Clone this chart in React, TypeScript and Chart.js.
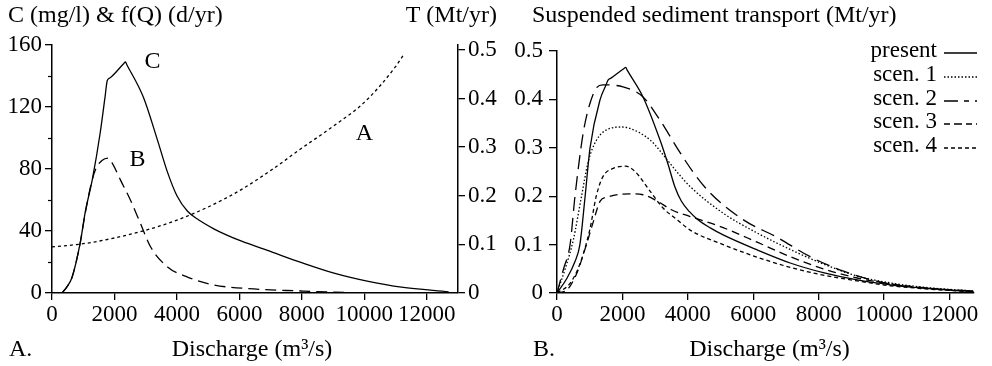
import React, { useEffect, useRef } from 'react';
import { Chart, registerables } from 'chart.js';

Chart.register(...registerables);

const FONT_FAMILY = '"Liberation Serif", "Times New Roman", serif';
const FONT_SIZE = 23;
const TITLE_SIZE = 24;

// ---------- Panel A data ----------
// Curve A: concentration (mg/l), left axis
const aDischarge = [0, 1000, 2000, 3000, 4000, 5000, 6000, 7000, 8000, 9000, 10000, 11000, 11250];
const aConc = [29.7, 31.8, 35.5, 40.5, 47, 55.5, 66, 79, 93.5, 107.5, 123, 146, 153.5];

// Curve B: frequency f(Q) (d/yr), left axis
const bDischarge = [320, 480, 640, 900, 1060, 1250, 1400, 1600, 1800, 1950, 2190, 2510, 2830, 3150, 3700, 4340, 5180, 6460, 7970, 9030, 10000];
const bDays = [0, 4, 10, 32, 51, 70, 80, 85.5, 87, 83, 73, 60, 45, 30, 16.8, 10.3, 5.2, 2.6, 1.3, 0.5, 0];

// Curve C: transport T (Mt/yr), right axis
const cDischarge = [320, 480, 640, 900, 1060, 1290, 1540, 1700, 1770, 1850, 2300, 2350, 2400, 2930, 3370, 3700, 4000, 4340, 4700, 5180, 5600, 6050, 7010, 7970, 9030, 10130, 11190, 12700];
const cTransport = [0, 0.013, 0.032, 0.102, 0.165, 0.233, 0.328, 0.404, 0.437, 0.442, 0.472, 0.475, 0.469, 0.402, 0.316, 0.248, 0.2, 0.168, 0.15, 0.132, 0.119, 0.107, 0.085, 0.063, 0.041, 0.024, 0.012, 0.0025];

const aLeftTicks = [0, 40, 80, 120, 160];
const dischargeTicks = [0, 2000, 4000, 6000, 8000, 10000, 12000];

// ---------- Panel B data ----------
const presentQ = [0, 300, 550, 700, 860, 1010, 1320, 1500, 1560, 1650, 2050, 2100, 2150, 2630, 3150, 3400, 3600, 3800, 4050, 4300, 4700, 5080, 6120, 7130, 8140, 9180, 10190, 11200, 12730];
const presentT = [0, 0.03, 0.065, 0.1, 0.2, 0.3, 0.4, 0.43, 0.44, 0.444, 0.464, 0.466, 0.46, 0.405, 0.316, 0.265, 0.22, 0.19, 0.168, 0.152, 0.134, 0.12, 0.089, 0.062, 0.042, 0.027, 0.017, 0.010, 0.003];

const scen1Q = [0, 250, 500, 750, 950, 1200, 1620, 2000, 2230, 2850, 3370, 3670, 4070, 5080, 6120, 7130, 8140, 9180, 10190, 11200, 12730];
const scen1T = [0, 0.05, 0.11, 0.2, 0.27, 0.315, 0.34, 0.343, 0.34, 0.316, 0.275, 0.25, 0.22, 0.165, 0.124, 0.09, 0.06, 0.035, 0.021, 0.012, 0.004];

const scen2Q = [0, 200, 400, 550, 800, 1000, 1220, 1400, 2020, 2630, 3150, 3670, 4160, 4680, 5700, 6730, 7740, 8760, 9800, 10800, 12730];
const scen2T = [0, 0.05, 0.1, 0.2, 0.33, 0.39, 0.425, 0.43, 0.426, 0.405, 0.357, 0.3, 0.25, 0.207, 0.151, 0.115, 0.075, 0.045, 0.024, 0.013, 0.004];

const scen3Q = [0, 300, 600, 900, 1100, 1320, 1530, 2230, 2630, 3060, 3500, 4070, 5080, 6120, 7130, 8140, 9180, 10190, 11200, 12730];
const scen3T = [0, 0.006, 0.04, 0.1, 0.145, 0.19, 0.198, 0.205, 0.203, 0.19, 0.172, 0.158, 0.135, 0.105, 0.075, 0.05, 0.031, 0.019, 0.011, 0.003];

const scen4Q = [0, 400, 700, 1000, 1200, 1400, 1700, 2100, 2400, 2850, 3250, 3700, 4070, 5080, 6120, 7130, 8140, 9180, 10190, 11200, 12730];
const scen4T = [0, 0.02, 0.06, 0.13, 0.2, 0.24, 0.257, 0.262, 0.25, 0.21, 0.175, 0.15, 0.13, 0.1, 0.074, 0.053, 0.037, 0.025, 0.015, 0.009, 0.002];

const legendLabels = ['present', 'scen. 1', 'scen. 2', 'scen. 3', 'scen. 4'];

const toPoints = (xs: number[], ys: number[]) => xs.map((x, i) => ({ x, y: ys[i] }));

const font = { family: FONT_FAMILY, size: FONT_SIZE };
const fontStr = `${FONT_SIZE}px ${FONT_FAMILY}`;
const titleFontStr = `${TITLE_SIZE}px ${FONT_FAMILY}`;

const numLabel = (v: any) => String(Number(v));
const decLabel = (v: any) => (Number(v) === 0 ? '0' : Number(v).toFixed(1));
const setTicks = (vals: number[]) => (s: any) => { s.ticks = vals.map((v) => ({ value: v })); };

const axisGrid = (len: number) => ({
  drawOnChartArea: false,
  drawTicks: true,
  tickLength: len,
  color: '#000',
  tickColor: '#000',
  lineWidth: 1.3,
});
const axisBorder = { display: true, color: '#000', width: 1.5 };

const lineBase = {
  borderColor: '#000',
  borderWidth: 1.3,
  pointRadius: 0,
  fill: false,
  cubicInterpolationMode: 'monotone',
};

function drawText(ctx: CanvasRenderingContext2D, text: string, x: number, y: number, align: CanvasTextAlign = 'left', f: string = fontStr) {
  ctx.save();
  ctx.font = f;
  ctx.fillStyle = '#000';
  ctx.textAlign = align;
  ctx.textBaseline = 'middle';
  ctx.fillText(text, x, y);
  ctx.restore();
}

const panelAPlugin = {
  id: 'panelAText',
  afterDraw(chart: any) {
    const { ctx, chartArea, scales } = chart;
    drawText(ctx, 'C (mg/l) & f(Q) (d/yr)', 8, 16, 'left', titleFontStr);
    drawText(ctx, 'T (Mt/yr)', 497, 16, 'right', titleFontStr);
    drawText(ctx, 'A.', 9, 350, 'left', titleFontStr);
    drawText(ctx, 'Discharge (m³/s)', (chartArea.left + chartArea.right) / 2 - 3, 350, 'center', titleFontStr);
    const x = scales.x, y = scales.y;
    drawText(ctx, 'C', x.getPixelForValue(3215), y.getPixelForValue(149), 'center', titleFontStr);
    drawText(ctx, 'B', x.getPixelForValue(2735), y.getPixelForValue(86), 'center', titleFontStr);
    drawText(ctx, 'A', x.getPixelForValue(10000), y.getPixelForValue(103), 'center', titleFontStr);
    // minor ticks on left axis
    ctx.save();
    ctx.strokeStyle = '#000';
    ctx.lineWidth = 1.2;
    [20, 60, 100, 140].forEach((v) => {
      const py = Math.round(y.getPixelForValue(v)) + 0.5;
      ctx.beginPath();
      ctx.moveTo(chartArea.left - 4, py);
      ctx.lineTo(chartArea.left, py);
      ctx.stroke();
    });
    ctx.restore();
  },
};

const legendDashes: number[][] = [[], [1.5, 2], [14, 6, 5, 6], [6, 4, 8, 4], [4, 3]];

const panelBPlugin = {
  id: 'panelBText',
  afterDraw(chart: any) {
    const { ctx, chartArea } = chart;
    drawText(ctx, 'Suspended sediment transport (Mt/yr)', 32, 16, 'left', titleFontStr);
    drawText(ctx, 'B.', 33, 350, 'left', titleFontStr);
    drawText(ctx, 'Discharge (m³/s)', (chartArea.left + chartArea.right) / 2 + 4, 350, 'center', titleFontStr);
    const rowsY = [51, 75, 99, 122, 146];
    legendLabels.forEach((lab, i) => {
      drawText(ctx, lab, 437, rowsY[i], 'right');
      ctx.save();
      ctx.strokeStyle = '#000';
      ctx.lineWidth = 1.3;
      ctx.setLineDash(legendDashes[i]);
      ctx.beginPath();
      ctx.moveTo(444, rowsY[i] + 2);
      ctx.lineTo(477, rowsY[i] + 2);
      ctx.stroke();
      ctx.restore();
    });
  },
};

function makePanelA(canvas: HTMLCanvasElement) {
  return new Chart(canvas, {
    type: 'line',
    data: {
      datasets: [
        { ...lineBase, label: 'A', data: toPoints(aDischarge, aConc), yAxisID: 'y', borderDash: [3, 3] } as any,
        { ...lineBase, label: 'B', data: toPoints(bDischarge, bDays), yAxisID: 'y', borderDash: [11, 6] } as any,
        { ...lineBase, label: 'C', data: toPoints(cDischarge, cTransport), yAxisID: 'y2' } as any,
      ],
    },
    options: {
      responsive: false,
      animation: false,
      layout: { padding: { top: 45, left: 0, right: 0, bottom: 0 } },
      plugins: { legend: { display: false }, tooltip: { enabled: false }, title: { display: false } },
      scales: {
        x: {
          type: 'linear', min: 0, max: 13000,
          afterBuildTicks: setTicks(dischargeTicks),
          ticks: { font, color: '#000', padding: 1, maxRotation: 0, autoSkip: false, callback: numLabel },
          grid: axisGrid(7), border: axisBorder,
          afterFit: (s: any) => { s.height = 73; },
        },
        y: {
          type: 'linear', position: 'left', min: 0, max: 160,
          afterBuildTicks: setTicks(aLeftTicks),
          ticks: { font, color: '#000', padding: 3, callback: numLabel },
          grid: axisGrid(7), border: axisBorder,
          afterFit: (s: any) => { s.width = 52; },
        },
        y2: {
          type: 'linear', position: 'right', min: 0, max: 0.51,
          ticks: { stepSize: 0.1, includeBounds: false, font, color: '#000', padding: 3, callback: decLabel },
          grid: axisGrid(7), border: axisBorder,
          afterFit: (s: any) => { s.width = 42; },
        },
      },
    } as any,
    plugins: [panelAPlugin],
  });
}

function makePanelB(canvas: HTMLCanvasElement) {
  return new Chart(canvas, {
    type: 'line',
    data: {
      datasets: [
        { ...lineBase, label: 'present', data: toPoints(presentQ, presentT) } as any,
        { ...lineBase, label: 'scen. 1', data: toPoints(scen1Q, scen1T), borderDash: [1.5, 2] } as any,
        { ...lineBase, label: 'scen. 2', data: toPoints(scen2Q, scen2T), borderDash: [14, 7] } as any,
        { ...lineBase, label: 'scen. 3', data: toPoints(scen3Q, scen3T), borderDash: [8, 5] } as any,
        { ...lineBase, label: 'scen. 4', data: toPoints(scen4Q, scen4T), borderDash: [4, 3] } as any,
      ],
    },
    options: {
      responsive: false,
      animation: false,
      layout: { padding: { top: 51, left: 0, right: 18, bottom: 0 } },
      plugins: { legend: { display: false }, tooltip: { enabled: false }, title: { display: false } },
      scales: {
        x: {
          type: 'linear', min: 0, max: 12750,
          afterBuildTicks: setTicks(dischargeTicks),
          ticks: { font, color: '#000', padding: 1, maxRotation: 0, autoSkip: false, callback: numLabel },
          grid: axisGrid(7), border: axisBorder,
          afterFit: (s: any) => { s.height = 73; },
        },
        y: {
          type: 'linear', position: 'left', min: 0, max: 0.5,
          ticks: { stepSize: 0.1, font, color: '#000', padding: 6, callback: decLabel },
          grid: axisGrid(8), border: axisBorder,
          afterFit: (s: any) => { s.width = 57; },
        },
      },
    } as any,
    plugins: [panelBPlugin],
  });
}

function ChartCanvas({ width, height, make }: { width: number; height: number; make: (c: HTMLCanvasElement) => Chart }) {
  const ref = useRef<HTMLCanvasElement | null>(null);
  useEffect(() => {
    if (!ref.current) return;
    const chart = make(ref.current);
    return () => chart.destroy();
  }, [make]);
  return <canvas ref={ref} width={width} height={height} style={{ width, height, display: 'block' }} />;
}

export default function App() {
  return (
    <div style={{ position: 'absolute', left: 0, top: 0, width: 992, height: 366, background: '#fff', display: 'flex' }}>
      <ChartCanvas width={500} height={366} make={makePanelA} />
      <ChartCanvas width={492} height={366} make={makePanelB} />
    </div>
  );
}
